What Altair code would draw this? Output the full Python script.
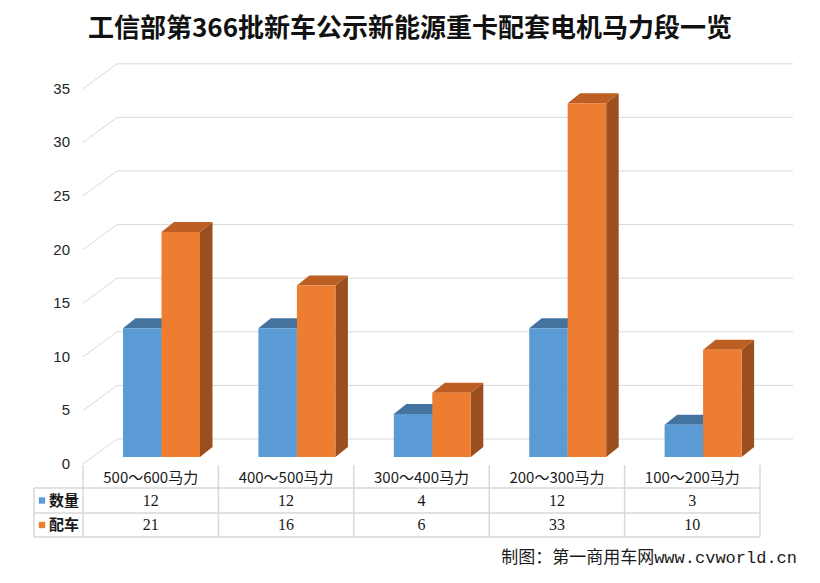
import altair as alt
import pandas as pd

# ---------------- data ----------------
title_text = "工信部第366批新车公示新能源重卡配套电机马力段一览"
source_text = "制图：第一商用车网www.cvworld.cn"
categories = ["500～600马力", "400～500马力", "300～400马力", "200～300马力", "100～200马力"]
series_names = ["数量", "配车"]
count_values = [12, 12, 4, 12, 3]        # 数量
vehicle_values = [21, 16, 6, 33, 10]     # 配车
y_ticks = [0, 5, 10, 15, 20, 25, 30, 35]

# ---------------- layout constants (chart px) ----------------
W, H = 804, 567
X0, COLW = 75.0, 135.4          # left of first category column, column width (px)
Y0, PPU = 456.0, 10.72          # front baseline px, px per value unit

def pu(px):   # horizontal px -> category units
    return (px - X0) / COLW

def pv(py):   # vertical px -> value units
    return (Y0 - py) / PPU

XD = [pu(0), pu(W)]
YD = [pv(H), pv(0)]

DEPTH_DX, DEPTH_DY = 34 / COLW, 25 / PPU        # wall depth
BAR_DX, BAR_DY = 12.5 / COLW, 10 / PPU          # bar depth
BAR_BASE = 7 / PPU
BAR_LEFT = 40 / COLW
BAR_W = 38.5 / COLW

blue_cols = {"front": "#5B9BD5", "top": "#44739F", "side": "#3B6790"}
orange_cols = {"front": "#ED7D31", "top": "#BC5F22", "side": "#9C4F1E"}

xs = alt.Scale(domain=XD, nice=False, zero=False)
ys = alt.Scale(domain=YD, nice=False, zero=False)

# ---------------- geometry tables ----------------
front_rows, top_rows, side_rows = [], [], []
for i, cat in enumerate(categories):
    for s, (name, vals) in enumerate(zip(series_names, [count_values, vehicle_values])):
        v = vals[i]
        xl = i + BAR_LEFT + s * BAR_W
        xr = xl + BAR_W
        base = BAR_BASE
        top = v + BAR_BASE
        bid = f"{i}-{s}"
        front_rows.append(dict(bid=bid, series=name, x=xl, x2=xr, y=base, y2=top, value=v))
        top_rows.append(dict(bid=bid, series=name, y=top, x=xl, x2=xr))
        top_rows.append(dict(bid=bid, series=name, y=top + BAR_DY, x=xl + BAR_DX, x2=xr + BAR_DX))
        side_rows.append(dict(bid=bid, series=name, x=xr, y=base, y2=top))
        side_rows.append(dict(bid=bid, series=name, x=xr + BAR_DX, y=base + BAR_DY, y2=top + BAR_DY))

front_df = pd.DataFrame(front_rows)
top_df = pd.DataFrame(top_rows)
side_df = pd.DataFrame(side_rows)

grid_rows = []
x_end = pu(785)
for t in y_ticks:
    grid_rows.append(dict(x=0.0, x2=DEPTH_DX, y=t, y2=t + DEPTH_DY))
    grid_rows.append(dict(x=DEPTH_DX, x2=x_end, y=t + DEPTH_DY, y2=t + DEPTH_DY))
grid_df = pd.DataFrame(grid_rows)

ylab_df = pd.DataFrame({"t": y_ticks, "x": [pu(62)] * len(y_ticks), "label": [str(t) for t in y_ticks]})

# table lines
tl_rows = []
t_top, r1, r2, r3 = pv(457), pv(480), pv(505), pv(529)
for k in range(len(categories) + 1):
    tl_rows.append(dict(x=float(k), x2=float(k), y=t_top, y2=r3))
leg_left = pu(26)
tl_rows.append(dict(x=leg_left, x2=leg_left, y=r1, y2=r3))
for ry in [r1, r2, r3]:
    tl_rows.append(dict(x=leg_left, x2=float(len(categories)), y=ry, y2=ry))
tl_df = pd.DataFrame(tl_rows)

cat_df = pd.DataFrame({"x": [i + 0.5 for i in range(len(categories))], "label": categories})
cat_df["y"] = pv(469.5)
val_rows = []
for i in range(len(categories)):
    val_rows.append(dict(x=i + 0.5, y=pv(492.5), label=str(count_values[i])))
    val_rows.append(dict(x=i + 0.5, y=pv(517), label=str(vehicle_values[i])))
val_df = pd.DataFrame(val_rows)

leg_df = pd.DataFrame({
    "series": series_names,
    "y": [pv(492.5), pv(517)],
    "xs": [pu(34), pu(34)],
    "xt": [pu(41), pu(41)],
})

def col(face_cols_b, face_cols_o):
    return alt.Color("series:N", scale=alt.Scale(domain=series_names, range=[face_cols_b, face_cols_o]), legend=None)

X = lambda f: alt.X(f, type="quantitative", scale=xs, axis=None)
Y = lambda f: alt.Y(f, type="quantitative", scale=ys, axis=None)

grid = alt.Chart(grid_df).mark_rule(color="#D9D9D9", strokeWidth=1).encode(
    x=X("x"), x2="x2", y=Y("y"), y2="y2")

ylabels = alt.Chart(ylab_df).mark_text(align="right", baseline="middle", font="Liberation Sans",
                                       fontSize=15, color="#262626").encode(
    x=X("x"), y=Y("t"), text="label:N")

sides = alt.Chart(side_df).mark_area(orient="vertical").encode(
    x=X("x"), y=Y("y"), y2="y2", detail="bid:N", color=col(blue_cols["side"], orange_cols["side"]))

tops = alt.Chart(top_df).mark_area(orient="horizontal").encode(
    y=Y("y"), x=X("x"), x2="x2", detail="bid:N", color=col(blue_cols["top"], orange_cols["top"]))

fronts = alt.Chart(front_df).mark_rect().encode(
    x=X("x"), x2="x2", y=Y("y"), y2="y2", color=col(blue_cols["front"], orange_cols["front"]))

table_lines = alt.Chart(tl_df).mark_rule(color="#D9D9D9", strokeWidth=1.5).encode(
    x=X("x"), x2="x2", y=Y("y"), y2="y2")

cat_text = alt.Chart(cat_df).mark_text(font="Noto Sans CJK SC", fontSize=15, color="#1a1a1a",
                                       baseline="middle").encode(x=X("x"), y=Y("y"), text="label:N")

val_text = alt.Chart(val_df).mark_text(font="Liberation Serif", fontSize=16, color="#1a1a1a",
                                       baseline="middle").encode(x=X("x"), y=Y("y"), text="label:N")

leg_sq = alt.Chart(leg_df).mark_square(size=40, opacity=1).encode(
    x=X("xs"), y=Y("y"), color=col(blue_cols["front"], orange_cols["front"]))

leg_text = alt.Chart(leg_df).mark_text(align="left", baseline="middle", font="Noto Sans CJK SC",
                                       fontSize=15, fontWeight="bold", color="#1a1a1a").encode(
    x=X("xt"), y=Y("y"), text="series:N")

title = alt.Chart(pd.DataFrame({"t": [title_text]})).mark_text(
    font="Noto Sans CJK SC", fontSize=26, fontWeight="bold", color="#111111", baseline="middle").encode(
    x=alt.value(402), y=alt.value(21), text="t:N")

source = alt.Chart(pd.DataFrame({"t": [source_text]})).mark_text(
    font="Liberation Mono, Noto Sans CJK SC", fontSize=17, color="#1a1a1a", align="right", baseline="middle").encode(
    x=alt.value(789), y=alt.value(550), text="t:N")

chart = alt.layer(
    grid, ylabels, sides, tops, fronts, table_lines, cat_text, val_text, leg_sq, leg_text, title, source
).resolve_scale(color="independent").properties(
    width=W, height=H, autosize=alt.AutoSizeParams(type="none"), padding=0, background="white"
).configure_view(stroke=None)

chart.save("out.html", embed_options={"renderer": "svg", "actions": False})
